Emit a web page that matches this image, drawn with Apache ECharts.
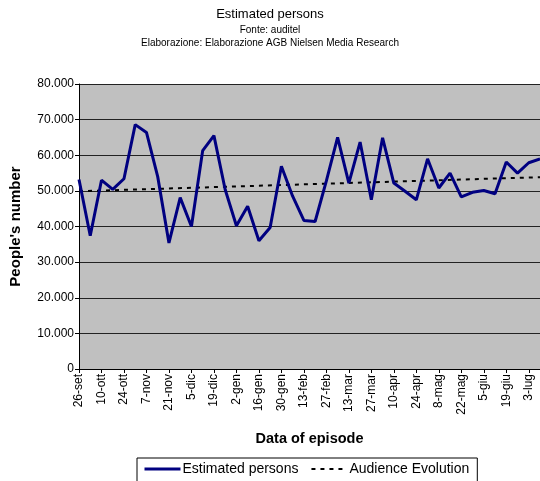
<!DOCTYPE html>
<html lang="it">
<head>
    <meta charset="UTF-8">
    <title>Estimated persons</title>
    <script src="https://cdn.jsdelivr.net/npm/echarts@6.0.0/dist/echarts.min.js"></script>
    <style>
        html, body { margin: 0; padding: 0; background: #fff; overflow: hidden; }
        #chart { width: 540px; height: 481px; }
    </style>
</head>
<body>
    <div id="chart"></div>
    <script>
        // settimane (una ogni 7 giorni), l'ultima è tagliata dal bordo destro
        const weeks = [
            '26-set', '3-ott', '10-ott', '17-ott', '24-ott', '31-ott', '7-nov', '14-nov',
            '21-nov', '28-nov', '5-dic', '12-dic', '19-dic', '26-dic', '2-gen', '9-gen',
            '16-gen', '23-gen', '30-gen', '6-feb', '13-feb', '20-feb', '27-feb', '6-mar',
            '13-mar', '20-mar', '27-mar', '3-apr', '10-apr', '17-apr', '24-apr', '1-mag',
            '8-mag', '15-mag', '22-mag', '29-mag', '5-giu', '12-giu', '19-giu', '26-giu',
            '3-lug', '10-lug'
        ];

        const estimatedPersons = [
            53200, 37400, 53000, 50400, 53400, 68600, 66400, 54000,
            35400, 48100, 40000, 61300, 65500, 50400, 40200, 45700,
            36000, 39700, 56900, 48500, 41700, 41400, 52800, 65000,
            52200, 63700, 47500, 64900, 52200, 49900, 47500, 59000,
            50800, 55000, 48300, 49600, 50100, 49200, 58100, 55000,
            57900, 59000
        ];

        // linea di tendenza: valori letti agli estremi
        const audienceEvolution = [['26-set', 49900], ['10-lug', 53850]];

        const yTicks = { min: 0, max: 80000, step: 10000 };

        const chart = echarts.init(document.getElementById('chart'));
        const font = 'Liberation Sans, Arial, sans-serif';

        chart.setOption({
            animation: false,
            textStyle: { fontFamily: font },
            title: {
                text: 'Estimated persons',
                subtext: 'Fonte: auditel\nElaborazione: Elaborazione AGB Nielsen Media Research',
                left: 'center',
                top: 3,
                itemGap: 3,
                textStyle: { fontFamily: font, fontSize: 13, fontWeight: 'normal', color: '#000' },
                subtextStyle: { fontFamily: font, fontSize: 10, color: '#000', lineHeight: 13 }
            },
            legend: {
                bottom: -9,
                left: 137,
                padding: [4, 8, 14, 6],
                borderColor: '#000',
                borderWidth: 1,
                itemWidth: 36,
                itemHeight: 14,
                itemGap: 12,
                itemStyle: { opacity: 0 },
                textStyle: { fontFamily: font, fontSize: 14, color: '#000', padding: [0, 0, 0, -3] },
                data: [
                    { name: 'Estimated persons', lineStyle: { color: '#000080', width: 3 } },
                    { name: 'Audience Evolution', lineStyle: { color: '#000', width: 2, type: [4, 5] } }
                ]
            },
            grid: {
                left: 77,
                right: -5,
                top: 84,
                bottom: 112,
                show: true,
                backgroundColor: '#c0c0c0',
                borderWidth: 0
            },
            xAxis: {
                type: 'category',
                data: weeks,
                boundaryGap: false,
                name: 'Data of episode',
                nameLocation: 'middle',
                nameGap: 62,
                nameTextStyle: { fontFamily: font, fontSize: 14.5, fontWeight: 'bold', color: '#000' },
                axisLine: { lineStyle: { color: '#000', width: 1 } },
                axisTick: { interval: 1, length: 4, lineStyle: { color: '#000' } },
                axisLabel: {
                    interval: 1,
                    rotate: 90,
                    margin: 5,
                    fontSize: 12,
                    color: '#000'
                },
                splitLine: { show: false }
            },
            yAxis: {
                type: 'value',
                min: yTicks.min,
                max: yTicks.max,
                interval: yTicks.step,
                name: "People's number",
                nameLocation: 'middle',
                nameRotate: 90,
                nameGap: 56,
                nameTextStyle: { fontFamily: font, fontSize: 15, fontWeight: 'bold', color: '#000' },
                axisLine: { show: true, lineStyle: { color: '#000', width: 1 } },
                axisTick: { show: true, length: 4, lineStyle: { color: '#000' } },
                axisLabel: {
                    margin: 5,
                    fontSize: 12,
                    color: '#000',
                    formatter: v => v === 0 ? '0' : (v / 1000).toFixed(0) + '.000'
                },
                splitLine: { lineStyle: { color: '#222', width: 1 } }
            },
            series: [
                {
                    name: 'Estimated persons',
                    type: 'line',
                    data: estimatedPersons,
                    symbol: 'none',
                    lineStyle: { color: '#000080', width: 3 },
                    itemStyle: { color: '#000080' },
                    z: 3
                },
                {
                    name: 'Audience Evolution',
                    type: 'line',
                    data: audienceEvolution,
                    symbol: 'none',
                    lineStyle: { color: '#000', width: 2, type: [4, 5] },
                    itemStyle: { color: '#000' },
                    z: 2
                }
            ]
        });
    </script>
</body>
</html>
